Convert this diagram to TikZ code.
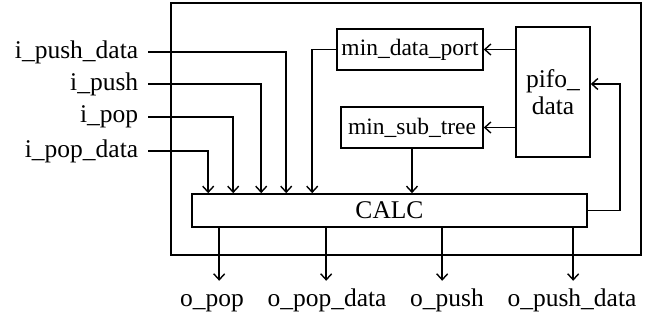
\documentclass[tikz,border=0pt]{standalone}
\usepackage{fontspec}
\setmainfont{Liberation Serif}
\usetikzlibrary{arrows.meta}
\begin{document}
\begin{tikzpicture}[x=1pt,y=-1pt,
  font=\fontsize{25.5}{27}\selectfont,
  line width=1.6pt,
  >={Straight Barb[length=6pt,width=11pt,line width=1.4pt]},
  blk/.style={draw,inner sep=0pt,align=center},
  small/.style={font=\fontsize{23.5}{26}\selectfont},
  inlbl/.style={anchor=east,inner xsep=9pt,inner ysep=0pt},
  outlbl/.style={anchor=base,inner sep=0pt}]
\useasboundingbox (0,0) rectangle (654,320);
\draw (171,3) rectangle (641,255);
\node[blk,minimum width=395pt,minimum height=33pt] (calc) at (389.5,210.5) {CALC};
\node[blk,small,minimum width=146pt,minimum height=41pt] (mdp) at (410,49.5) {min\_data\_port};
\node[blk,small,minimum width=142pt,minimum height=41pt] (mst) at (412,127.5) {min\_sub\_tree};
\node[blk,minimum width=74pt,minimum height=130pt] (pifo) at (553,92) {pifo\_\\data};
\node[inlbl] (ipd) at (148,52) {i\_push\_data};
\node[inlbl] (ipu) at (148,84) {i\_push};
\node[inlbl] (ipo) at (148,117) {i\_pop};
\node[inlbl] (ipod) at (148,151) {i\_pop\_data};
\draw[->] (ipd.east) -| ([xshift=95pt]calc.north west);
\draw[->] (ipu.east) -| ([xshift=70pt]calc.north west);
\draw[->] (ipo.east) -| ([xshift=42pt]calc.north west);
\draw[->] (ipod.east) -| ([xshift=17pt]calc.north west);
\draw[->] (mdp.west) -| ([xshift=121pt]calc.north west);
\draw[->] (mst.south) -- (mst.south |- calc.north);
\draw[->] (pifo.west |- mdp.east) -- (mdp.east);
\draw[->] (pifo.west |- mst.east) -- (mst.east);
\draw[->] (calc.east) -- ++(32,0) |- ([yshift=8pt]pifo.east);
\node[outlbl] (opo) at (212,307) {o\_pop};
\node[outlbl] (opod) at (327,307) {o\_pop\_data};
\node[outlbl] (opu) at (447,307) {o\_push};
\node[outlbl] (opud) at (572,307) {o\_push\_data};
\draw[->] ([xshift=28pt]calc.south west) -- ++(0,53);
\draw[->] ([xshift=135pt]calc.south west) -- ++(0,53);
\draw[->] ([xshift=251pt]calc.south west) -- ++(0,53);
\draw[->] ([xshift=382pt]calc.south west) -- ++(0,53);
\end{tikzpicture}
\end{document}
